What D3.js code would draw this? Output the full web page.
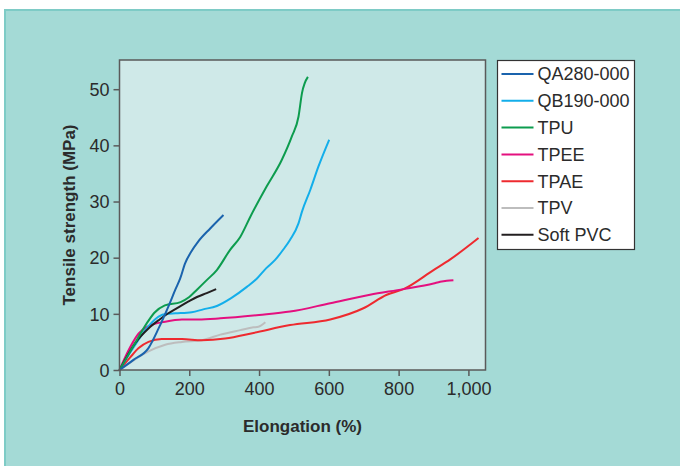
<!DOCTYPE html>
<html><head><meta charset="utf-8">
<script src="https://cdn.jsdelivr.net/npm/d3@7/dist/d3.min.js"></script>
<style>body{margin:0;background:#fff;} text{font-family:"Liberation Sans Narrow","Liberation Sans",Arial,sans-serif;}</style>
</head><body><svg id="c" width="680" height="466"></svg>
<script>
const seriesNames = ["QA280-000","QB190-000","TPU","TPEE","TPAE","TPV","Soft PVC"];
const seriesColors = ["#1a63ad","#13aeea","#0d9c4e","#e4107f","#ee2a2f","#bdbdbd","#231f20"];
const qa280 = [[0,0],[40,1.8],[83,3.9],[112,7.4],[140,11.3],[160,14.3],[174,16.3],[188,19.0],[205,21],[226,22.9],[260,25.2],[298,27.6]];
const qb190 = [[0,0],[40,4],[74,7.1],[100,8.9],[112,9.5],[136,10],[160,10.1],[207,10.3],[240,10.8],[279,11.4],[320,12.8],[365,14.8],[394,16.3],[420,18.1],[446,19.6],[470,21.5],[489,23.2],[513,26.1],[523,28.2],[547,32.1],[570,36.2],[601,41.0]];
const tpu = [[0,0],[40,4.3],[78,8.3],[100,10.2],[130,11.5],[175,12.1],[200,13],[222,14.3],[250,16],[279,17.8],[317,21.4],[346,23.7],[375,27.3],[422,32.7],[465,37.4],[494,41.6],[513,45.1],[523,49.3],[540,52.2]];
const tpee = [[0,0],[30,4],[55,6.5],[83,7.8],[131,8.6],[179,9.0],[226,9.0],[289,9.2],[400,9.8],[489,10.4],[604,11.9],[718,13.4],[814,14.4],[900,15.4],[919,15.7],[938,15.9],[957,16.0]];
const tpae = [[0,0],[30,2.2],[55,3.9],[83,5.0],[121,5.5],[179,5.5],[236,5.3],[303,5.6],[384,6.6],[489,8.0],[604,9.0],[699,11.0],[766,13.4],[814,14.4],[900,17.8],[948,19.7],[1029,23.5]];
const tpv = [[0,0],[40,1.7],[83,3.3],[131,4.5],[179,5.0],[236,5.3],[289,6.3],[346,7.1],[384,7.6],[398,7.7],[418,8.5]];
const softPvc = [[0,0],[45,4.8],[83,7.4],[115,9],[140,10.1],[165,11.0],[198,12.2],[222,13.0],[250,13.7],[277,14.4]];
const xTicks = [0,200,400,600,800,1000];
const yTicks = [0,10,20,30,40,50];
const xTitle = "Elongation (%)";
const yTitle = "Tensile strength (MPa)";

const allSeries = [qa280,qb190,tpu,tpee,tpae,tpv,softPvc];
const svg = d3.select("#c");
svg.append("rect").attr("x",5).attr("y",10).attr("width",680).attr("height",470)
  .attr("fill","#a4dad6").attr("stroke","#7ecbc6").attr("stroke-width",2);

const L=119.5,R=485.5,T=60,B=370;
const x = d3.scaleLinear().domain([0,1049]).range([L,R]);
const y = d3.scaleLinear().domain([0,55.2]).range([B,T]);

svg.append("rect").attr("x",L).attr("y",T).attr("width",R-L).attr("height",B-T).attr("fill","#cfe9e8");

const line = d3.line().x(d=>x(d[0])).y(d=>y(d[1])).curve(d3.curveMonotoneX);
const order = [5,4,3,1,6,2,0];
const g = svg.append("g");
g.selectAll("path").data(order).join("path")
  .attr("d",i=>line(allSeries[i])).attr("fill","none")
  .attr("stroke",i=>seriesColors[i]).attr("stroke-width",2).attr("stroke-linejoin","round");

svg.append("rect").attr("x",L).attr("y",T).attr("width",R-L).attr("height",B-T)
  .attr("fill","none").attr("stroke","#5a5a5a").attr("stroke-width",1.5);

const xa = svg.append("g").attr("transform",`translate(0,${B})`)
  .call(d3.axisBottom(x).tickValues(xTicks).tickSize(6).tickPadding(6).tickFormat(d3.format(",")));
const ya = svg.append("g").attr("transform",`translate(${L},0)`)
  .call(d3.axisLeft(y).tickValues(yTicks).tickSize(6).tickPadding(4));
[xa,ya].forEach(a=>{
  a.select(".domain").remove();
  a.selectAll("line").attr("stroke","#5a5a5a").attr("stroke-width",1.5);
  a.selectAll("text").attr("font-size",18).attr("fill","#2b2b2b")
    .style("font-family",'"Liberation Sans Narrow","Liberation Sans",sans-serif');
});
ya.selectAll("text").attr("dy","0.35em");

svg.append("text").attr("x",(L+R)/2).attr("y",432).attr("text-anchor","middle")
  .attr("font-size",17).attr("font-weight","bold").attr("fill","#2b2b2b").text(xTitle);
svg.append("text").attr("transform",`translate(75,${(T+B)/2}) rotate(-90)`).attr("text-anchor","middle")
  .attr("font-size",17).attr("font-weight","bold").attr("fill","#2b2b2b").text(yTitle);

const lg = svg.append("g");
lg.append("rect").attr("x",497.5).attr("y",60.5).attr("width",137).attr("height",189)
  .attr("fill","#fff").attr("stroke","#333").attr("stroke-width",1.2);
const items = lg.selectAll("g.it").data(seriesNames).join("g").attr("class","it")
  .attr("transform",(d,i)=>`translate(0,${74+i*26.8})`);
items.append("line").attr("x1",501.5).attr("x2",533.5).attr("stroke",(d,i)=>seriesColors[i]).attr("stroke-width",2);
items.append("text").attr("x",537.5).attr("dy","0.36em").attr("font-size",18).attr("fill","#2b2b2b").text(d=>d);
</script></body></html>
